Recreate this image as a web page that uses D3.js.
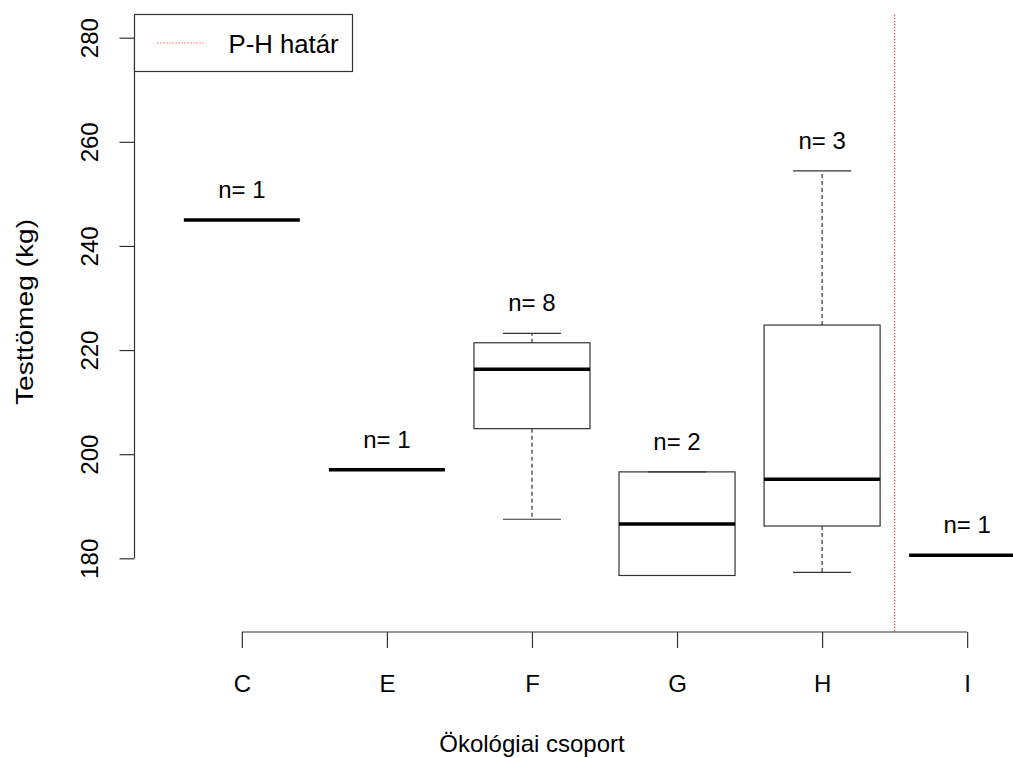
<!DOCTYPE html>
<html>
<head>
<meta charset="utf-8">
<script src="https://cdn.jsdelivr.net/npm/d3@7"></script>
<style>
  html, body { margin: 0; padding: 0; background: #fff; }
  svg { display: block; }
  text { font-family: "Liberation Sans", Arial, Helvetica, sans-serif; fill: #000; }
</style>
</head>
<body>
<svg id="chart" width="1013" height="758"></svg>
<script>
// ---- data ----
const categories  = ["C", "E", "F", "G", "H", "I"];
const counts      = [1, 1, 8, 2, 3, 1];
const whiskerLow  = [245.0, 197.0, 187.5, 176.7, 177.3, 180.6];
const q1          = [245.0, 197.0, 204.9, 176.7, 186.2, 180.6];
const medians     = [245.0, 197.0, 216.3, 186.6, 195.2, 180.6];
const q3          = [245.0, 197.0, 221.4, 196.6, 224.8, 180.6];
const whiskerHigh = [245.0, 197.0, 223.2, 196.6, 254.4, 180.6];
const yTicks      = [180, 200, 220, 240, 260, 280];
const boundaryPos = 5.5;          // between H and I
const legendLabel = "P-H határ";
const xTitle = "Ökológiai csoport";
const yTitle = "Testtömeg (kg)";

// ---- layout ----
const svg = d3.select("#chart");
const plot = { left: 134.5, right: 1074.5, top: 15, bottom: 632 };
const FS = 24;

const x = d3.scaleLinear().domain([0.26, 6.74]).range([plot.left, plot.right]);
const y = d3.scaleLinear().domain([180, 280]).range([558.3, 37.7]);
const unit = x(2) - x(1);
const halfBox = unit * 0.4;
const halfCap = halfBox * 0.5;

const data = categories.map((c, i) => ({
  c, i: i + 1, n: counts[i], lo: whiskerLow[i], q1: q1[i], med: medians[i], q3: q3[i], hi: whiskerHigh[i]
}));

// ---- boxes ----
const g = svg.append("g");
const box = g.selectAll("g.box").data(data).join("g").attr("class", "box");

// whiskers (dashed)
box.append("line")
  .attr("x1", d => x(d.i)).attr("x2", d => x(d.i))
  .attr("y1", d => y(d.q3)).attr("y2", d => y(d.hi))
  .attr("stroke", "#333").attr("stroke-width", 1.2).attr("stroke-dasharray", "4,3");
box.append("line")
  .attr("x1", d => x(d.i)).attr("x2", d => x(d.i))
  .attr("y1", d => y(d.q1)).attr("y2", d => y(d.lo))
  .attr("stroke", "#333").attr("stroke-width", 1.2).attr("stroke-dasharray", "4,3");
// caps
box.append("line")
  .attr("x1", d => x(d.i) - halfCap).attr("x2", d => x(d.i) + halfCap)
  .attr("y1", d => y(d.hi)).attr("y2", d => y(d.hi))
  .attr("stroke", "#333").attr("stroke-width", 1.2);
box.append("line")
  .attr("x1", d => x(d.i) - halfCap).attr("x2", d => x(d.i) + halfCap)
  .attr("y1", d => y(d.lo)).attr("y2", d => y(d.lo))
  .attr("stroke", "#333").attr("stroke-width", 1.2);
// box rect
box.append("rect")
  .attr("x", d => x(d.i) - halfBox).attr("width", 2 * halfBox)
  .attr("y", d => y(d.q3)).attr("height", d => y(d.q1) - y(d.q3))
  .attr("fill", "none").attr("stroke", "#333").attr("stroke-width", 1.2);
// median
box.append("line")
  .attr("x1", d => x(d.i) - halfBox).attr("x2", d => x(d.i) + halfBox)
  .attr("y1", d => y(d.med)).attr("y2", d => y(d.med))
  .attr("stroke", "#000").attr("stroke-width", 3.5);
// n labels
box.append("text")
  .attr("x", d => x(d.i)).attr("y", d => y(d.hi) - 22)
  .attr("text-anchor", "middle").attr("font-size", FS)
  .text(d => "n= " + d.n);

// ---- boundary line ----
svg.append("line")
  .attr("x1", x(boundaryPos)).attr("x2", x(boundaryPos))
  .attr("y1", plot.top).attr("y2", plot.bottom)
  .attr("stroke", "#ff4040").attr("stroke-width", 1.2).attr("stroke-dasharray", "1.2,1.8");

// ---- y axis ----
const yAxis = svg.append("g").attr("transform", `translate(${plot.left},0)`)
  .call(d3.axisLeft(y).tickValues(yTicks).tickSize(15).tickFormat(d3.format("d")));
yAxis.select(".domain").remove();
yAxis.selectAll(".tick line").attr("stroke", "#333").attr("stroke-width", 1.2);
yAxis.selectAll(".tick text")
  .attr("font-size", FS).attr("font-family", null).attr("fill", "#000")
  .attr("x", null).attr("dy", null)
  .attr("text-anchor", "middle")
  .attr("transform", `translate(-37,0) rotate(-90)`);
yAxis.append("line").attr("x1", 0).attr("x2", 0)
  .attr("y1", y(yTicks[0])).attr("y2", y(yTicks[yTicks.length - 1]))
  .attr("stroke", "#333").attr("stroke-width", 1.2);

// ---- x axis ----
const idx = categories.map((c, i) => i + 1);
const xAxis = svg.append("g").attr("transform", `translate(0,${plot.bottom})`)
  .call(d3.axisBottom(x).tickValues(idx).tickSize(16).tickFormat(d => categories[d - 1]));
xAxis.select(".domain").remove();
xAxis.selectAll(".tick line").attr("stroke", "#333").attr("stroke-width", 1.2);
xAxis.selectAll(".tick text")
  .attr("font-size", FS).attr("font-family", null).attr("fill", "#000")
  .attr("y", 60).attr("dy", null);
xAxis.append("line").attr("y1", 0).attr("y2", 0)
  .attr("x1", x(idx[0])).attr("x2", x(idx[idx.length - 1]))
  .attr("stroke", "#333").attr("stroke-width", 1.2);

// ---- titles ----
svg.append("text").attr("x", x(3)).attr("y", 752)
  .attr("text-anchor", "middle").attr("font-size", FS).text(xTitle);
svg.append("text")
  .attr("transform", `translate(33,312) rotate(-90)`)
  .attr("text-anchor", "middle").attr("font-size", FS)
  .attr("textLength", 186).attr("lengthAdjust", "spacingAndGlyphs")
  .text(yTitle);

// ---- legend ----
const lg = svg.append("g").attr("transform", `translate(${plot.left},14.5)`);
lg.append("rect").attr("x", 0).attr("y", 0).attr("width", 218).attr("height", 57)
  .attr("fill", "#fff").attr("stroke", "#333").attr("stroke-width", 1.2);
lg.append("line").attr("x1", 23).attr("x2", 70).attr("y1", 28.5).attr("y2", 28.5)
  .attr("stroke", "#ff4040").attr("stroke-width", 1.2).attr("stroke-dasharray", "1.2,1.8");
lg.append("text").attr("x", 94).attr("y", 38).attr("font-size", 25)
  .attr("textLength", 110).attr("lengthAdjust", "spacingAndGlyphs")
  .text(legendLabel);
</script>
</body>
</html>
